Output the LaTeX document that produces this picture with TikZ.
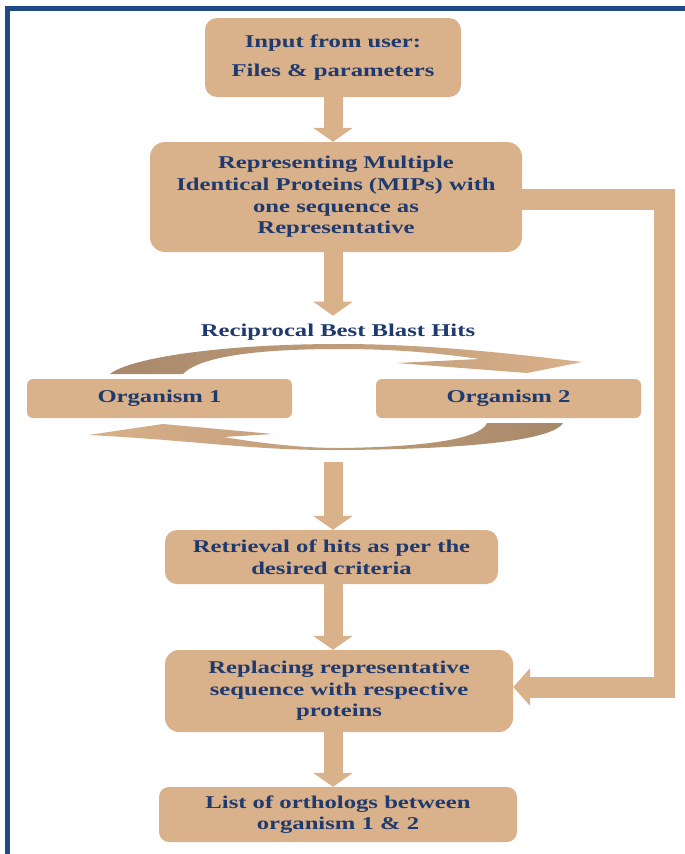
\documentclass[tikz,border=0pt]{standalone}
\usepackage{fontspec}
\setmainfont{Liberation Serif}[FakeStretch=1.37]
\usetikzlibrary{arrows.meta}
\definecolor{boxtan}{RGB}{217,177,138}
\definecolor{curvedark}{RGB}{166,136,106}
\definecolor{navytext}{RGB}{31,58,110}
\definecolor{frameblue}{RGB}{31,74,134}
\begin{document}
\begin{tikzpicture}[x=1pt,y=-1pt,
  flowbox/.style={fill=boxtan,text=navytext,font=\fontsize{18}{21.6}\selectfont\bfseries,
    align=center,inner sep=0pt,rounded corners=12pt},
  blockarrow/.style={draw=boxtan,line width=19pt,-{Triangle[length=14pt,width=39pt]}},
  feedarrow/.style={draw=boxtan,line width=21pt,line join=miter,-{Triangle[length=17pt,width=37pt]}}]
\fill[white] (0,0) rectangle (685,854);
\useasboundingbox (0,0) rectangle (685,854);
% frame
\draw[frameblue,line width=5pt] (7,854)-- (7,8)-- (685,8);
% boxes
\node[flowbox,minimum width=256pt,minimum height=79pt] (in) at (333,57.5) {Input from user:\\[8pt]Files \& parameters};
\node[flowbox,minimum width=372pt,minimum height=110pt,rounded corners=15pt] (rep) at (336,197) {Representing Multiple\\Identical Proteins (MIPs) with\\one sequence as\\Representative};
\node[text=navytext,font=\fontsize{18}{21.6}\selectfont\bfseries,inner sep=0pt] (rbbh) at (338,332) {Reciprocal Best Blast Hits};
\node[flowbox,minimum width=265pt,minimum height=39pt,rounded corners=6pt] (org1) at (159.5,398.5) {Organism 1};
\node[flowbox,minimum width=265pt,minimum height=39pt,rounded corners=6pt] (org2) at (508.5,398.5) {Organism 2};
\node[flowbox,minimum width=333pt,minimum height=54pt] (ret) at (331.5,557) {Retrieval of hits as per the\\desired criteria};
\node[flowbox,minimum width=348pt,minimum height=82pt,rounded corners=14pt] (repl) at (339,691) {Replacing representative\\sequence with respective\\proteins};
\node[flowbox,minimum width=358pt,minimum height=55pt,rounded corners=10pt] (list) at (338,814.5) {List of orthologs between\\organism 1 \& 2};
% curved arrows between organisms
\shade[left color=curvedark,right color=boxtan] (110,374) .. controls (130,358) and (220,344) .. (340,344)
  .. controls (420,344) and (500,352) .. (582,362) -- (527,373) -- (397,363) -- (480,359)
  .. controls (430,352) and (390,349) .. (340,349) .. controls (260,349) and (200,356) .. (183,374) -- cycle;
\shade[left color=boxtan,right color=curvedark] (563,423) .. controls (550,445) and (420,450) .. (330,450)
  .. controls (250,450) and (190,440) .. (88,435) -- (163,424) -- (273,434) -- (223,437)
  .. controls (260,443) and (300,448) .. (340,448) .. controls (420,447) and (480,440) .. (487,423) -- cycle;
% arrows
\coordinate (axis) at (333,0);
\coordinate (rbbhout) at (333,462);
\coordinate (fbtop) at (664,199.5);
\draw[blockarrow] (in.south -| axis)-- (rep.north -| axis);
\draw[blockarrow,shorten >=8pt] (rep.south -| axis)-- (rbbh.north -| axis);
\draw[blockarrow] (rbbhout)-- (ret.north -| axis);
\draw[blockarrow] (ret.south -| axis)-- (repl.north -| axis);
\draw[blockarrow] (repl.south -| axis)-- (list.north -| axis);
\draw[feedarrow] ([yshift=-2.5pt]rep.east)-- (fbtop) |- ([yshift=4pt]repl.east);
\end{tikzpicture}
\end{document}
